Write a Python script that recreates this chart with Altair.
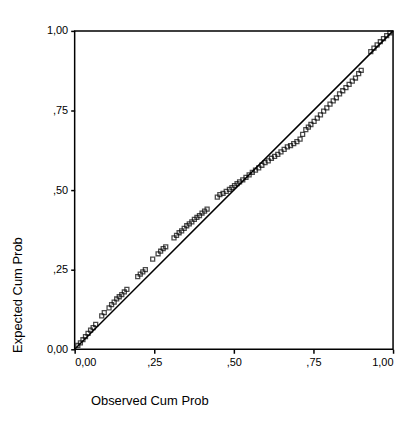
import altair as alt
import pandas as pd

observed = [0.010, 0.018, 0.026, 0.034, 0.042, 0.050, 0.058, 0.066,
            0.085, 0.093, 0.108, 0.116, 0.124, 0.132, 0.140, 0.148, 0.156, 0.164,
            0.198, 0.206, 0.214, 0.222, 0.245,
            0.262, 0.270, 0.278, 0.286,
            0.312, 0.320, 0.328, 0.336, 0.344, 0.352, 0.360, 0.368, 0.376, 0.384, 0.392, 0.400, 0.408, 0.416,
            0.448, 0.456, 0.466, 0.476, 0.486, 0.494, 0.502, 0.510, 0.518, 0.528, 0.538, 0.548, 0.558, 0.568,
            0.578, 0.588, 0.598, 0.608, 0.618,
            0.628, 0.638, 0.648, 0.658, 0.668, 0.678, 0.688, 0.698, 0.708, 0.716,
            0.726, 0.734, 0.742, 0.752, 0.762, 0.772, 0.782, 0.792, 0.802, 0.812, 0.822, 0.832, 0.842,
            0.852, 0.862, 0.872, 0.882, 0.892, 0.900,
            0.930, 0.940, 0.950, 0.960, 0.970, 0.980, 0.990]
expected = [0.012, 0.020, 0.030, 0.040, 0.050, 0.060, 0.068, 0.078,
            0.105, 0.115, 0.130, 0.140, 0.148, 0.158, 0.165, 0.172, 0.180, 0.188,
            0.228, 0.236, 0.243, 0.250, 0.283,
            0.300, 0.308, 0.316, 0.322,
            0.350, 0.358, 0.366, 0.372, 0.380, 0.388, 0.394, 0.400, 0.408, 0.414, 0.420, 0.428, 0.434, 0.440,
            0.478, 0.486, 0.490, 0.496, 0.502, 0.508, 0.514, 0.520, 0.526, 0.532, 0.540, 0.548, 0.556, 0.563,
            0.570, 0.578, 0.586, 0.592, 0.600,
            0.606, 0.612, 0.620, 0.628, 0.636, 0.640, 0.646, 0.652, 0.660, 0.675,
            0.690, 0.698, 0.706, 0.716, 0.726, 0.736, 0.748, 0.758, 0.770, 0.780, 0.790, 0.802, 0.812,
            0.822, 0.832, 0.842, 0.852, 0.866, 0.876,
            0.935, 0.946, 0.956, 0.966, 0.976, 0.985, 0.994]

ticks = [0, 0.25, 0.5, 0.75, 1.0]
line_x = [0.0, 1.0]

pts = pd.DataFrame({"obs": observed, "exp": expected})
ref = pd.DataFrame({"obs": line_x, "exp": line_x})

label_expr = "datum.value == 0 ? '0,00' : datum.value == 1 ? '1,00' : replace(format(datum.value, '.2f'), '0.', ',')"

x_scale = alt.Scale(domain=[0, 1], nice=False)
y_scale = alt.Scale(domain=[0, 1], nice=False)

x_axis = alt.Axis(values=ticks, labelExpr=label_expr, grid=False, tickSize=4, tickWidth=1.5,
                  title="Observed Cum Prob", titleX=75, titleY=45, titleAlign="center",
                  titleFontWeight="normal", titleFontSize=13, labelFontSize=11,
                  labelPadding=3, domain=False)
y_axis = alt.Axis(values=ticks, labelExpr=label_expr, grid=False, tickSize=4, tickWidth=1.5,
                  title="Expected Cum Prob", titleX=-50, titleY=265, titleAlign="center",
                  titleFontWeight="normal", titleFontSize=13, labelFontSize=11,
                  labelPadding=3, domain=False)

points = alt.Chart(pts).mark_point(shape="square", filled=False, color="black",
                                    size=16, strokeWidth=1.3).encode(
    x=alt.X("obs:Q", scale=x_scale, axis=x_axis),
    y=alt.Y("exp:Q", scale=y_scale, axis=y_axis),
)

diag = alt.Chart(ref).mark_line(color="black", strokeWidth=1.5).encode(
    x=alt.X("obs:Q", scale=x_scale),
    y=alt.Y("exp:Q", scale=y_scale),
)

chart = alt.layer(diag, points).properties(
    width=320, height=320,
    autosize=alt.AutoSizeParams(type="none"),
    padding={"left": 67, "top": 22, "right": 10, "bottom": 60},
).configure_view(stroke="black", strokeWidth=1.5).configure_axis(
    labelFont="Liberation Sans", titleFont="Liberation Sans",
    labelColor="black", titleColor="black", tickColor="black",
)

chart.save("out.html", embed_options={"renderer": "svg", "actions": False})
